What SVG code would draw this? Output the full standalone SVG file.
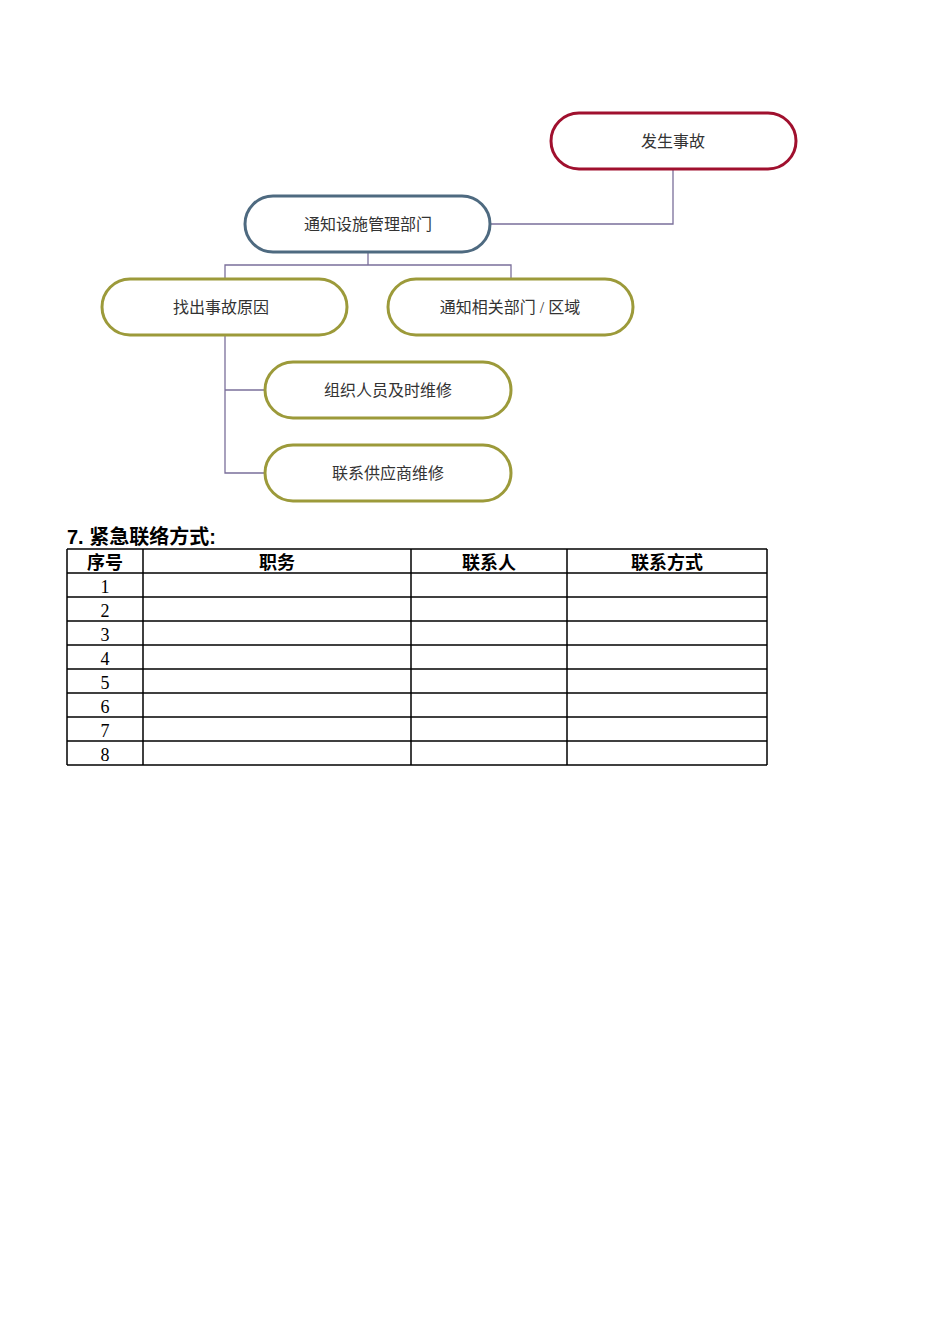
<svg xmlns="http://www.w3.org/2000/svg" width="950" height="1344" viewBox="0 0 950 1344">
<style>
.n{fill:#fff;stroke-width:3}
.t{font-family:"Liberation Serif","Noto Sans CJK SC",serif;font-size:16px;fill:#333;text-anchor:middle}
.c{fill:none;stroke:#7a6f9a;stroke-width:1.3}
.g line{stroke:#000;stroke-width:1.5}
.h{font-family:"Liberation Serif","Noto Sans CJK SC",serif;font-size:18px;font-weight:bold;text-anchor:middle}
.d{font-family:"Liberation Serif","Noto Sans CJK SC",serif;font-size:18px;text-anchor:middle}
</style>
<rect width="950" height="1344" fill="#fff"/>
<g id="connectors">
<polyline class="c" points="673,169 673,224 490,224"/>
<polyline class="c" points="368,252 368,265"/>
<polyline class="c" points="225,279 225,265 511,265 511,279"/>
<polyline class="c" points="225,335 225,473 265,473"/>
<polyline class="c" points="225,390 265,390"/>
</g>
<g id="n1"><rect class="n" x="551" y="113" width="245" height="56" rx="28" stroke="#a0102e"/><text class="t" x="673" y="147">发生事故</text></g>
<g id="n2"><rect class="n" x="245" y="196" width="245" height="56" rx="28" stroke="#4e6a80"/><text class="t" x="368" y="230">通知设施管理部门</text></g>
<g id="n3"><rect class="n" x="102" y="279" width="245" height="56" rx="28" stroke="#9c9a3a"/><text class="t" x="221" y="313">找出事故原因</text></g>
<g id="n4"><rect class="n" x="388" y="279" width="245" height="56" rx="28" stroke="#9c9a3a"/><text class="t" x="510" y="313">通知相关部门 / 区域</text></g>
<g id="n5"><rect class="n" x="265" y="362" width="246" height="56" rx="28" stroke="#9c9a3a"/><text class="t" x="388" y="396">组织人员及时维修</text></g>
<g id="n6"><rect class="n" x="265" y="445" width="246" height="56" rx="28" stroke="#9c9a3a"/><text class="t" x="388" y="479">联系供应商维修</text></g>
<text x="67" y="544" font-family="Liberation Sans,Noto Sans CJK SC,sans-serif" font-size="20" font-weight="bold">7. 紧急联络方式:</text>
<g class="g">
<line x1="67" y1="549" x2="767" y2="549"/><line x1="67" y1="573" x2="767" y2="573"/><line x1="67" y1="597" x2="767" y2="597"/><line x1="67" y1="621" x2="767" y2="621"/><line x1="67" y1="645" x2="767" y2="645"/><line x1="67" y1="669" x2="767" y2="669"/><line x1="67" y1="693" x2="767" y2="693"/><line x1="67" y1="717" x2="767" y2="717"/><line x1="67" y1="741" x2="767" y2="741"/><line x1="67" y1="765" x2="767" y2="765"/>
<line x1="67" y1="549" x2="67" y2="765"/><line x1="143" y1="549" x2="143" y2="765"/><line x1="411" y1="549" x2="411" y2="765"/><line x1="567" y1="549" x2="567" y2="765"/><line x1="767" y1="549" x2="767" y2="765"/>
</g>
<text class="h" x="105" y="569">序号</text><text class="h" x="277" y="569">职务</text><text class="h" x="489" y="569">联系人</text><text class="h" x="667" y="569">联系方式</text>
<text class="d" x="105" y="593">1</text><text class="d" x="105" y="617">2</text><text class="d" x="105" y="641">3</text><text class="d" x="105" y="665">4</text><text class="d" x="105" y="689">5</text><text class="d" x="105" y="713">6</text><text class="d" x="105" y="737">7</text><text class="d" x="105" y="761">8</text>
</svg>
